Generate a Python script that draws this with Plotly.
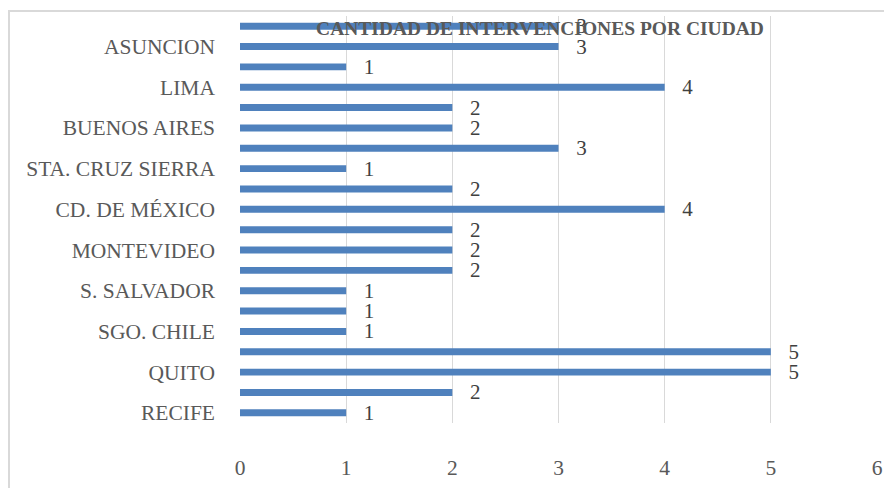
import plotly.graph_objects as go

# Cities from bottom to top; Excel only printed every second label
cities = ["RECIFE", "", "QUITO", "", "SGO. CHILE", "", "S. SALVADOR", "",
          "MONTEVIDEO", "", "CD. DE MÉXICO", "", "STA. CRUZ SIERRA", "",
          "BUENOS AIRES", "", "LIMA", "", "ASUNCION", ""]
interventions = [1, 2, 5, 5, 1, 1, 1, 2, 2, 2, 4, 2, 1, 3, 2, 2, 4, 1, 3, 3]
x_ticks = [0, 1, 2, 3, 4, 5, 6]

positions = list(range(len(cities)))
label_pos = [p for p, c in zip(positions, cities) if c]
label_txt = [c for c in cities if c]

# the page body adds an 8px offset, so everything is placed 8px up/left
W, H = 892, 488
L, R, T, B = 232, 23, 8, 73

fig = go.Figure()
fig.add_trace(go.Bar(
    x=interventions, y=positions, orientation='h',
    marker=dict(color='#4F81BD', line=dict(width=0)),
    text=interventions, texttemplate='  \u2009%{text}',
    textposition='outside', constraintext='none', cliponaxis=False,
    textfont=dict(family='Liberation Serif', size=21, color='#404040'),
    hoverinfo='skip', showlegend=False
))

fig.update_layout(
    width=W, height=H,
    margin=dict(l=L, r=R, t=T, b=B),
    paper_bgcolor='white', plot_bgcolor='white',
    bargap=0.66,
    font=dict(family='Liberation Serif', size=21.5, color='#595959'),
    title=dict(text='<b>CANTIDAD DE INTERVENCIONES POR CIUDAD</b>',
               x=532 / W, xanchor='center', y=1 - 20 / H, yanchor='middle',
               font=dict(family='Liberation Serif', size=19.5, color='#595959')),
    xaxis=dict(range=[0, 6], tickvals=x_ticks, showgrid=True,
               gridcolor='#d9d9d9', gridwidth=1, zeroline=False,
               showline=False, ticklabelstandoff=29),
    yaxis=dict(range=[-0.5, len(cities) - 0.5], tickvals=label_pos,
               ticktext=label_txt, showgrid=False, zeroline=False,
               showline=False, ticklabelstandoff=24),
)

# chart-area border (top and left edges visible in the crop)
fig.add_shape(type='rect', xref='paper', yref='paper', xsizemode='pixel',
              ysizemode='pixel', xanchor=0, yanchor=1,
              x0=1 - L, x1=W + 20 - L, y0=T - 3, y1=-(H - T + 20),
              line=dict(color='#d9d9d9', width=2), fillcolor='rgba(0,0,0,0)',
              layer='below')

fig.write_html("out.html")
